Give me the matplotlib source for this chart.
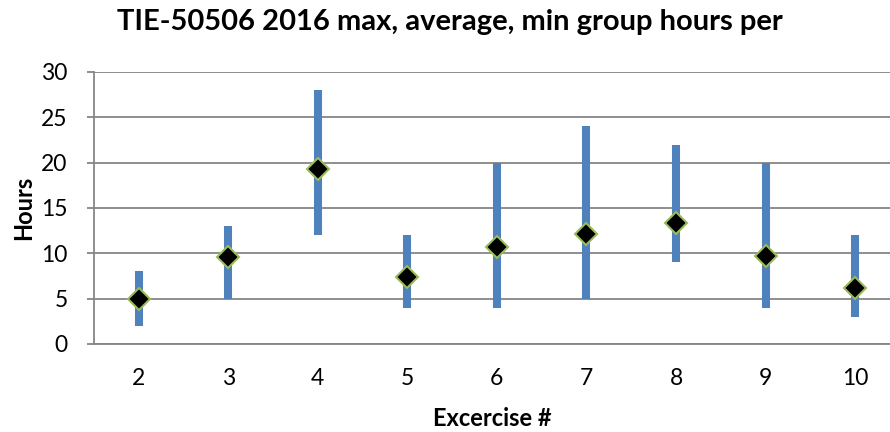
import matplotlib
matplotlib.use("Agg")
import matplotlib.pyplot as plt

plt.rcParams['font.family'] = ['Lato', 'DejaVu Sans']

exercises = ["2", "3", "4", "5", "6", "7", "8", "9", "10"]
max_hours = [8, 13, 28, 12, 20, 24, 22, 20, 12]
avg_hours = [5.0, 9.55, 19.3, 7.35, 10.7, 12.15, 13.4, 9.75, 6.15]
min_hours = [2, 5, 12, 4, 4, 5, 9, 4, 3]
yticks = [0, 5, 10, 15, 20, 25, 30]

fig = plt.figure(figsize=(8.9, 4.32), dpi=100)
ax = fig.add_axes([94/890, 1-344/432, 1-94/890, (344-72)/432])

x = list(range(len(exercises)))
ax.vlines(x, min_hours, max_hours, colors='#4F81BD', linewidth=5.8, capstyle='butt', zorder=3)
ax.plot(x, avg_hours, linestyle='none', marker='D', markersize=11,
        markerfacecolor='black', markeredgecolor='#9BBB59', markeredgewidth=1.5, zorder=4)

ax.set_xlim(-0.5, 8.39)
ax.set_ylim(0, 30)
ax.set_yticks(yticks)
ax.set_xticks(x)
ax.set_xticklabels(exercises)
ax.yaxis.grid(True, color='#868686', linewidth=1.3)
ax.set_axisbelow(True)
for s in ['top', 'right']:
    ax.spines[s].set_visible(False)
for s in ['left', 'bottom']:
    ax.spines[s].set_color('#868686')
    ax.spines[s].set_linewidth(1.3)
ax.tick_params(axis='y', length=5, color='#868686', width=1.3, labelsize=16.5, pad=14)
ax.tick_params(axis='x', length=0, labelsize=16.5, pad=17)

ax.set_ylabel("Hours", fontsize=17, fontweight='bold', labelpad=4)
ax.set_xlabel("Excercise #", fontsize=17, fontweight='bold', labelpad=13)
fig.text(450/890, 1-22/432, "TIE-50506 2016 max, average, min group hours per",
         ha='center', va='center', fontsize=21, fontweight='bold')

fig.savefig("out.png", dpi=100)
